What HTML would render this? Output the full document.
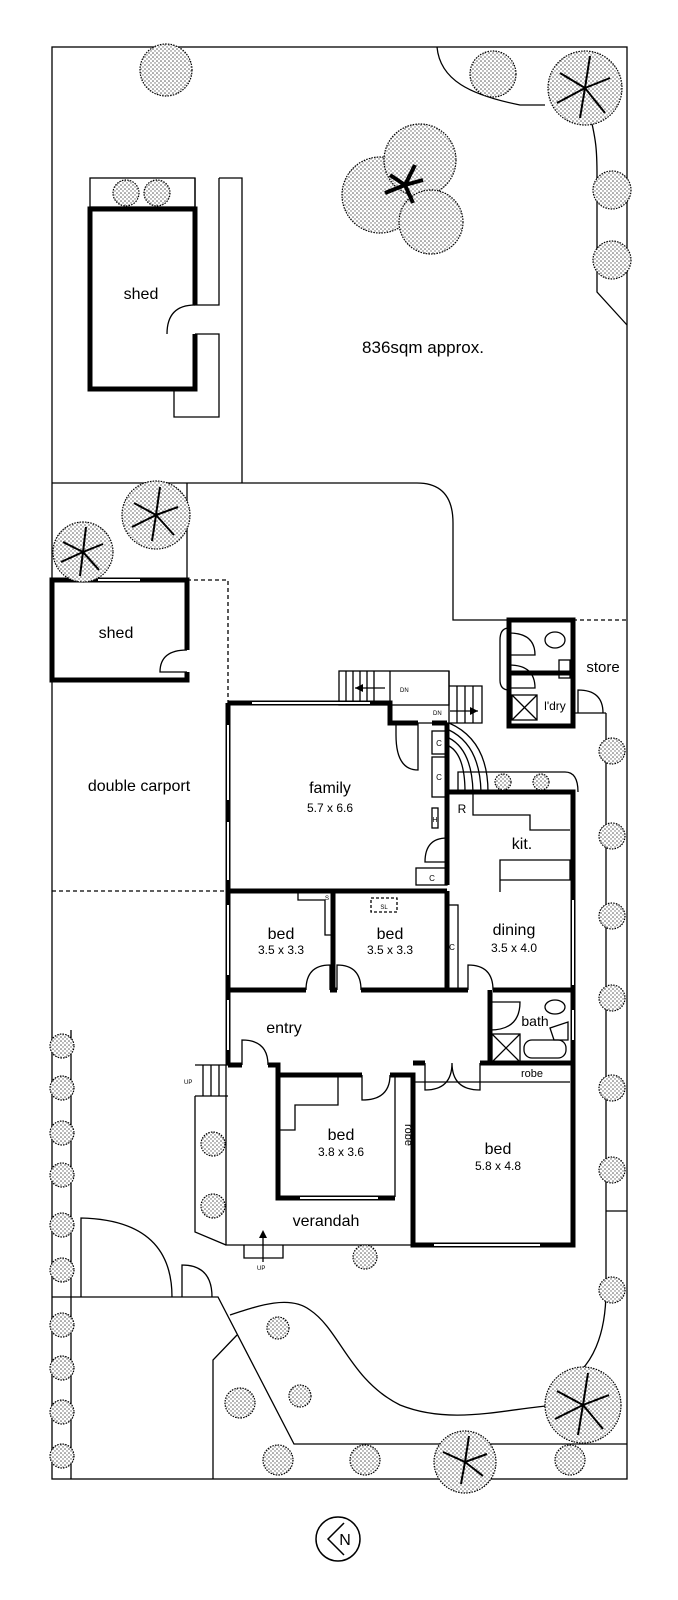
<!DOCTYPE html>
<html><head><meta charset="utf-8"><style>
html,body{margin:0;padding:0;background:#fff}
svg{display:block}
text{font-family:"Liberation Sans",sans-serif;fill:#000}
.t{fill:url(#st);stroke:#000;stroke-width:1.2;stroke-dasharray:1.5 1.2}
</style></head><body>
<svg width="678" height="1600" viewBox="0 0 678 1600" xmlns="http://www.w3.org/2000/svg">
<defs>
<pattern id="st" width="4" height="4" patternUnits="userSpaceOnUse">
<rect width="4" height="4" fill="#fff"/><circle cx="1" cy="1" r="0.8" fill="#555"/><circle cx="3" cy="3" r="0.7" fill="#666"/>
</pattern>
</defs>
<g fill="none" stroke="#000" stroke-width="1.3">
<rect x="52" y="47" width="575" height="1432"/>
<path d="M437 47 C440 80 470 95 520 105 L545 105"/>
<path d="M590 115 C596 140 597 150 597 175 L597 292 L627 325"/>
<rect x="90" y="178" width="105" height="29"/>
<path d="M195 178 V305 H219 V178 M195 334 H219 V417 H174 V389"/>
<path d="M219 178 H242 V483"/>
<path d="M52 483 H417 Q453 483 453 523 V620 H509"/>
<path d="M187 483 V580"/>
<path d="M187 580 H228 V703" stroke-dasharray="4 3"/>
<path d="M573 620 H627" stroke-dasharray="4 3"/>
<path d="M52 891 H228" stroke-dasharray="4 3"/>
<path d="M606 713 V1290 C606 1330 595 1370 560 1385"/>
<path d="M606 1211 H627"/>
<path d="M578 713 V690 Q603 690 603 713 M573 713 H606"/>
<path d="M230 1315 C260 1305 290 1295 310 1310 C340 1330 350 1380 400 1405 C450 1425 500 1410 555 1405"/>
<path d="M52 1297 H218 L294 1444 H627"/>
<path d="M71 1030 V1479"/>
<path d="M237 1335 L213 1360 V1479"/>
<path d="M81 1297 V1218 Q172 1220 172 1297 M182 1297 V1265 Q212 1265 212 1297"/>
<path d="M226 1065 V1245 H413"/>
<path d="M195 1096 V1232 L226 1245"/>
<path d="M195 1065 H228 M195 1096 H228 M203 1065 V1096 M211 1065 V1096 M219 1065 V1096"/>
<path d="M244 1245 V1258 H283 V1245"/>
<path d="M263 1262 V1232"/>
<rect x="339" y="671" width="110" height="34"/>
<path d="M390 671 V723 H449 V671 M449 686 H482 V723 H449"/>
<path d="M346 671 V705 M353 671 V705 M360 671 V705 M367 671 V705 M374 671 V705 M457 686 V723 M465 686 V723 M473 686 V723"/>
<path d="M355 688 H385 M450 711 H478"/>
<path d="M449 723 Q488 740 488 792 M449 730 Q480 745 481 792 M449 738 Q472 750 473 792 M449 746 Q465 755 465 792"/>
<path d="M458 792 V772 H565 Q578 772 578 792"/>
<path d="M473 792 V815 H530 V830 H570 M500 860 H570 V880 H500 Z M500 880 V892"/>
<path d="M396 723 V735 Q396 770 418 770 V723"/>
<path d="M447 838 Q425 838 425 862 H447"/>
<path d="M306 990 Q306 965 330 965 V990 M337 990 V965 Q361 965 361 990"/>
<path d="M468 990 V965 Q493 965 493 990"/>
<path d="M490 1002 H520 Q520 1030 490 1030"/>
<path d="M242 1065 V1040 Q268 1040 268 1065"/>
<path d="M362 1075 V1100 Q390 1100 390 1075"/>
<path d="M425 1063 V1090 Q452 1090 452 1063 M452 1063 Q452 1090 480 1090 V1063"/>
<path d="M278 1130 H295 V1105 H338 V1075"/>
<path d="M413 1082 H570"/>
<path d="M395 1075 V1197"/>
<path d="M298 891 V900 H325 V935 H333"/>
<rect x="371" y="898" width="26" height="14" stroke-dasharray="3 2"/>
<rect x="447" y="905" width="11" height="85"/>
<rect x="416" y="868" width="31" height="17"/>
<rect x="432" y="731" width="15" height="23"/>
<rect x="432" y="757" width="15" height="40"/>
<rect x="432" y="808" width="6" height="20"/>
<rect x="492" y="1034" width="28" height="28"/><path d="M492 1034 L520 1062 M520 1034 L492 1062"/>
<rect x="524" y="1040" width="42" height="18" rx="8"/>
<ellipse cx="555" cy="1007" rx="10" ry="7"/>
<path d="M550 1028 L568 1022 V1040 H554 Z"/>
<rect x="512" y="695" width="25" height="25"/><path d="M512 695 L537 720 M537 695 L512 720"/>
<rect x="559" y="660" width="11" height="18"/>
<ellipse cx="555" cy="640" rx="10" ry="8"/>
<path d="M509 633 Q535 633 535 655 H509 M509 665 Q535 665 535 688 H509"/>
<path d="M509 628 Q500 628 500 640 V680 Q500 690 509 690"/>
<path d="M187 650 Q160 650 160 672 H187"/>
<path d="M195 305 Q167 305 167 334"/>
</g>
<g fill="none" stroke="#000" stroke-width="5">
<path d="M195 305 V209 H90 V389 H195 V334"/>
<path d="M187 650 V580 H52 V680 H187 V672"/>
<rect x="509" y="620" width="64" height="106"/>
<path d="M509 673 H573"/>
<path d="M228 891 H447 M447 792 V885 M447 723 V792 H573 V1063 M228 703 V1065 M228 703 H390 V723 H418 M432 723 H447"/>
<path d="M228 990 H306 M330 990 H337 M361 990 H468 M493 990 H573 M333 891 V990 M447 891 V990"/>
<path d="M490 990 V1063 H573 M490 1063 H480 M425 1063 H413"/>
<path d="M228 1065 H242 M268 1065 H278 V1198 H395 M278 1075 H362 M390 1075 H413 V1245 H573 V1063"/>
</g>
<g stroke="#fff" stroke-width="2">
<path d="M252 703 H370 M228 725 V800 M228 822 V880 M228 905 V975 M228 1000 V1050 M573 900 V985 M573 1010 V1040 M300 1198 H378 M434 1245 H540 M98 580 H140"/>
</g>
<g class="tr">
<circle class="t" cx="166" cy="70" r="26"/>
<circle class="t" cx="493" cy="74" r="23"/>
<circle class="t" cx="585" cy="88" r="37"/>
<circle class="t" cx="380" cy="195" r="38"/>
<circle class="t" cx="420" cy="160" r="36"/>
<circle class="t" cx="431" cy="222" r="32"/>
<circle class="t" cx="612" cy="190" r="19"/>
<circle class="t" cx="612" cy="260" r="19"/>
<circle class="t" cx="156" cy="515" r="34"/>
<circle class="t" cx="83" cy="552" r="30"/>
<circle class="t" cx="126" cy="193" r="13"/>
<circle class="t" cx="157" cy="193" r="13"/>
<circle class="t" cx="503" cy="782" r="8"/>
<circle class="t" cx="541" cy="782" r="8"/>
<circle class="t" cx="612" cy="751" r="13"/>
<circle class="t" cx="612" cy="836" r="13"/>
<circle class="t" cx="612" cy="916" r="13"/>
<circle class="t" cx="612" cy="998" r="13"/>
<circle class="t" cx="612" cy="1088" r="13"/>
<circle class="t" cx="612" cy="1170" r="13"/>
<circle class="t" cx="612" cy="1290" r="13"/>
<circle class="t" cx="583" cy="1405" r="38"/>
<circle class="t" cx="62" cy="1046" r="12"/>
<circle class="t" cx="62" cy="1088" r="12"/>
<circle class="t" cx="62" cy="1133" r="12"/>
<circle class="t" cx="62" cy="1175" r="12"/>
<circle class="t" cx="62" cy="1225" r="12"/>
<circle class="t" cx="62" cy="1270" r="12"/>
<circle class="t" cx="62" cy="1325" r="12"/>
<circle class="t" cx="62" cy="1368" r="12"/>
<circle class="t" cx="62" cy="1412" r="12"/>
<circle class="t" cx="62" cy="1456" r="12"/>
<circle class="t" cx="213" cy="1144" r="12"/>
<circle class="t" cx="213" cy="1206" r="12"/>
<circle class="t" cx="365" cy="1257" r="12"/>
<circle class="t" cx="278" cy="1328" r="11"/>
<circle class="t" cx="300" cy="1396" r="11"/>
<circle class="t" cx="240" cy="1403" r="15"/>
<circle class="t" cx="278" cy="1460" r="15"/>
<circle class="t" cx="365" cy="1460" r="15"/>
<circle class="t" cx="465" cy="1462" r="31"/>
<circle class="t" cx="570" cy="1460" r="15"/>
</g>
<g stroke="#000" stroke-width="2" fill="none">
<path d="M585 88 l-25 -15 M585 88 l25 -10 M585 88 l-5 30 M585 88 l20 25 M585 88 l-28 15 M585 88 l5 -32"/>
<path d="M156 515 l-22 -12 M156 515 l22 -8 M156 515 l-4 26 M156 515 l18 20 M156 515 l-24 12 M156 515 l4 -28"/>
<path d="M83 552 l-20 -10 M83 552 l20 -8 M83 552 l-3 24 M83 552 l16 18 M83 552 l-22 10 M83 552 l3 -25"/>
<path d="M583 1405 l-26 -14 M583 1405 l26 -10 M583 1405 l-5 30 M583 1405 l20 24 M583 1405 l-28 14 M583 1405 l5 -32"/>
<path d="M465 1462 l-22 -10 M465 1462 l22 -8 M465 1462 l-4 22 M465 1462 l18 14 M465 1462 l4 -26"/>
<path d="M405 185 l-15 -10 M405 185 l10 -20 M405 185 l-20 8 M405 185 l8 18 M405 185 l18 -5" stroke-width="4"/>
</g>
<g fill="#000"><path d="M355 688 l8 -4 v8z M478 711 l-8 -4 v8z M263 1230 l-4 8 h8z"/></g>
<g fill="none" stroke="#000" stroke-width="1.5">
<circle cx="338" cy="1539" r="22"/>
<path d="M344 1523 L328 1539 L344 1555"/>
</g>
<text x="423" y="353" font-size="17" text-anchor="middle">836sqm approx.</text>
<text x="141" y="299" font-size="16" text-anchor="middle">shed</text>
<text x="116" y="638" font-size="16" text-anchor="middle">shed</text>
<text x="139" y="791" font-size="16" text-anchor="middle">double carport</text>
<text x="330" y="793" font-size="16" text-anchor="middle">family</text>
<text x="330" y="812" font-size="12" text-anchor="middle">5.7 x 6.6</text>
<text x="522" y="849" font-size="16" text-anchor="middle">kit.</text>
<text x="462" y="813" font-size="12" text-anchor="middle">R</text>
<text x="281" y="939" font-size="16" text-anchor="middle">bed</text>
<text x="281" y="954" font-size="12" text-anchor="middle">3.5 x 3.3</text>
<text x="390" y="939" font-size="16" text-anchor="middle">bed</text>
<text x="390" y="954" font-size="12" text-anchor="middle">3.5 x 3.3</text>
<text x="514" y="935" font-size="16" text-anchor="middle">dining</text>
<text x="514" y="952" font-size="12" text-anchor="middle">3.5 x 4.0</text>
<text x="284" y="1033" font-size="16" text-anchor="middle">entry</text>
<text x="535" y="1026" font-size="14" text-anchor="middle">bath</text>
<text x="532" y="1077" font-size="11" text-anchor="middle">robe</text>
<text x="341" y="1140" font-size="16" text-anchor="middle">bed</text>
<text x="341" y="1156" font-size="12" text-anchor="middle">3.8 x 3.6</text>
<text x="498" y="1154" font-size="16" text-anchor="middle">bed</text>
<text x="498" y="1170" font-size="12" text-anchor="middle">5.8 x 4.8</text>
<text x="326" y="1226" font-size="16" text-anchor="middle">verandah</text>
<text x="603" y="672" font-size="15" text-anchor="middle">store</text>
<text x="555" y="710" font-size="12" text-anchor="middle">l'dry</text>
<text x="384" y="909" font-size="6" text-anchor="middle">SL</text>
<text x="327" y="900" font-size="6" text-anchor="middle">S</text>
<text x="439" y="746" font-size="8" text-anchor="middle">C</text>
<text x="439" y="780" font-size="8" text-anchor="middle">C</text>
<text x="432" y="881" font-size="8" text-anchor="middle">C</text>
<text x="452" y="950" font-size="8" text-anchor="middle">C</text>
<text x="435" y="822" font-size="7" text-anchor="middle">H</text>
<text x="400" y="692" font-size="6">DN</text>
<text x="433" y="715" font-size="6">DN</text>
<text x="184" y="1084" font-size="6">UP</text>
<text x="257" y="1270" font-size="6">UP</text>
<text x="405" y="1135" font-size="11" text-anchor="middle" transform="rotate(90 405 1135)">robe</text>
<text x="345" y="1545" font-size="16" text-anchor="middle">N</text>
</svg>
</body></html>
